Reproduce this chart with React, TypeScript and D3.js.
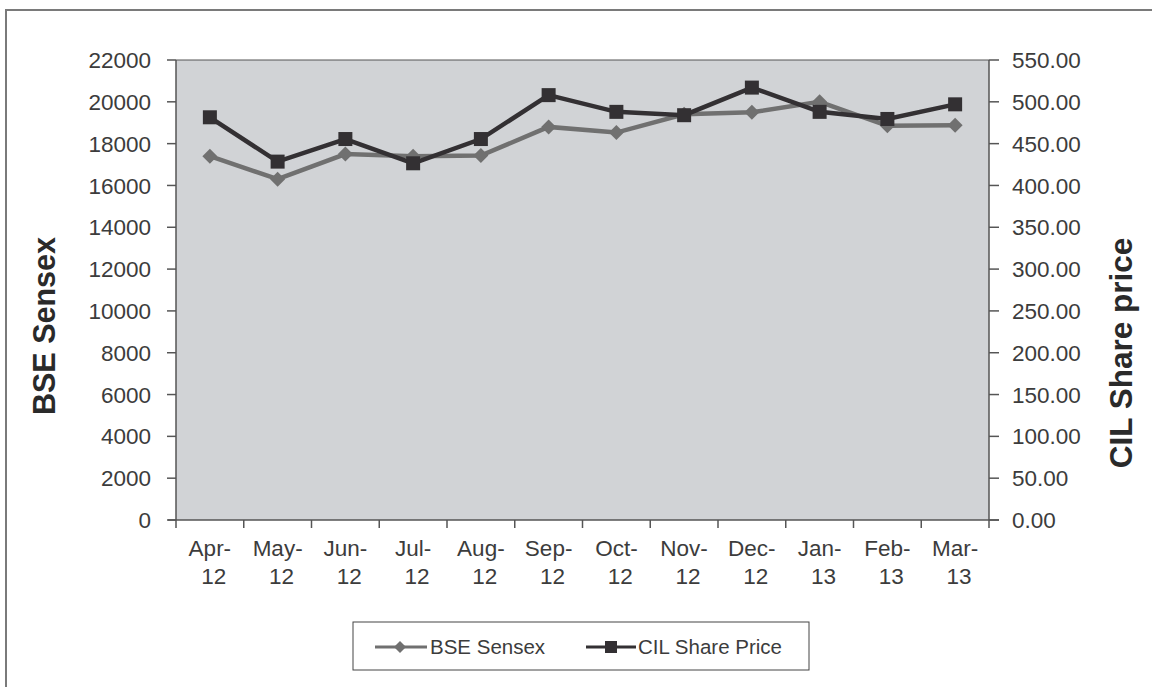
import React from "react";
import * as d3 from "d3";

const categories = ["Apr-12","May-12","Jun-12","Jul-12","Aug-12","Sep-12","Oct-12","Nov-12","Dec-12","Jan-13","Feb-13","Mar-13"];
const bseSensex = [17400, 16300, 17500, 17400, 17430, 18800, 18530, 19400, 19500, 20000, 18850, 18880];
const cilPrice = [481.5, 428.5, 455.5, 426.5, 455.5, 508, 488, 484, 517, 488, 479.5, 497];
const leftTicks = [0,2000,4000,6000,8000,10000,12000,14000,16000,18000,20000,22000];
const rightTicks = [0,50,100,150,200,250,300,350,400,450,500,550];

const W = 1152, H = 687;
const L = 176, R = 989, T = 60, B = 520;
const FONT = "'Liberation Sans', Arial, sans-serif";

export default function App() {
  const x = d3.scaleBand<string>().domain(categories).range([L, R]);
  const yL = d3.scaleLinear().domain([0, 22000]).range([B, T]);
  const yR = d3.scaleLinear().domain([0, 550]).range([B, T]);
  const cx = (c: string) => (x(c) as number) + x.bandwidth() / 2;
  const lineL = d3.line<number>().x((_, i) => cx(categories[i])).y(d => yL(d));
  const lineR = d3.line<number>().x((_, i) => cx(categories[i])).y(d => yR(d));
  const diamond = (px: number, py: number, s = 7.5) => `M${px},${py - s}L${px + s},${py}L${px},${py + s}L${px - s},${py}Z`;
  const grey = "#707070", dark = "#333033", txt = "#3c3c3c";

  return (
    <svg width={W} height={H} style={{ position: "absolute", left: 0, top: 0 }}>
      <rect x={0} y={0} width={W} height={H} fill="#fff" />
      <rect x={6} y={10} width={W + 20} height={H + 20} fill="none" stroke="#7a7a7a" strokeWidth={2} />
      <rect x={L} y={T} width={R - L} height={B - T} fill="#d1d3d6" />
      {/* axes */}
      <line x1={L} y1={T} x2={L} y2={B} stroke="#555" strokeWidth={1.5} />
      <line x1={R} y1={T} x2={R} y2={B} stroke="#555" strokeWidth={1.5} />
      <line x1={L} y1={T} x2={R} y2={T} stroke="#555" strokeWidth={1} />
      <line x1={L - 8} y1={B} x2={R + 10} y2={B} stroke="#555" strokeWidth={1.5} />
      {leftTicks.map(t => (
        <g key={"l" + t}>
          <line x1={L - 9} x2={L} y1={yL(t)} y2={yL(t)} stroke="#555" strokeWidth={1.5} />
          <text x={151} y={yL(t)} dy="0.36em" textAnchor="end" fontFamily={FONT} fontSize={22.5} fill={txt}>{t}</text>
        </g>
      ))}
      {rightTicks.map(t => (
        <g key={"r" + t}>
          <line x1={R} x2={R + 10} y1={yR(t)} y2={yR(t)} stroke="#555" strokeWidth={1.5} />
          <text x={1012} y={yR(t)} dy="0.36em" textAnchor="start" fontFamily={FONT} fontSize={22.5} fill={txt}>{t.toFixed(2)}</text>
        </g>
      ))}
      {categories.map((c, i) => (
        <line key={"xt" + i} x1={x(c) as number} x2={x(c) as number} y1={B} y2={B + 8} stroke="#555" strokeWidth={1.5} />
      ))}
      <line x1={R} x2={R} y1={B} y2={B + 8} stroke="#555" strokeWidth={1.5} />
      {categories.map((c, i) => {
        const [m, yy] = c.split("-");
        return (
          <text key={"xl" + i} x={cx(c)} textAnchor="middle" fontFamily={FONT} fontSize={22.5} fill={txt}>
            <tspan x={cx(c)} y={556}>{m + "-"}</tspan>
            <tspan x={cx(c) + 4} y={584}>{yy}</tspan>
          </text>
        );
      })}
      {/* series */}
      <path d={lineL(bseSensex) || ""} fill="none" stroke={grey} strokeWidth={4.5} />
      {bseSensex.map((v, i) => (
        <path key={"d" + i} d={diamond(cx(categories[i]), yL(v))} fill={grey} />
      ))}
      <path d={lineR(cilPrice) || ""} fill="none" stroke={dark} strokeWidth={4.5} />
      {cilPrice.map((v, i) => (
        <rect key={"s" + i} x={cx(categories[i]) - 7} y={yR(v) - 7} width={14} height={14} fill={dark} />
      ))}
      {/* axis titles */}
      <text transform={`translate(55,326) rotate(-90)`} textAnchor="middle" fontFamily={FONT} fontSize={30.5} fontWeight="bold" fill="#2a2a2a">BSE Sensex</text>
      <text transform={`translate(1132,353) rotate(-90)`} textAnchor="middle" fontFamily={FONT} fontSize={31.5} fontWeight="bold" fill="#2a2a2a">CIL Share price</text>
      {/* legend */}
      <rect x={353} y={622} width={456} height={48} fill="#fff" stroke="#444" strokeWidth={1} />
      <line x1={375} x2={427} y1={647} y2={647} stroke={grey} strokeWidth={3} />
      <path d={diamond(400, 647, 6)} fill={grey} />
      <text x={430} y={647} dy="0.36em" fontFamily={FONT} fontSize={20.5} fill={txt}>BSE Sensex</text>
      <line x1={586} x2={636} y1={647} y2={647} stroke={dark} strokeWidth={3} />
      <rect x={605} y={641} width={12} height={12} fill={dark} />
      <text x={638} y={647} dy="0.36em" fontFamily={FONT} fontSize={20.5} fill={txt}>CIL Share Price</text>
    </svg>
  );
}
